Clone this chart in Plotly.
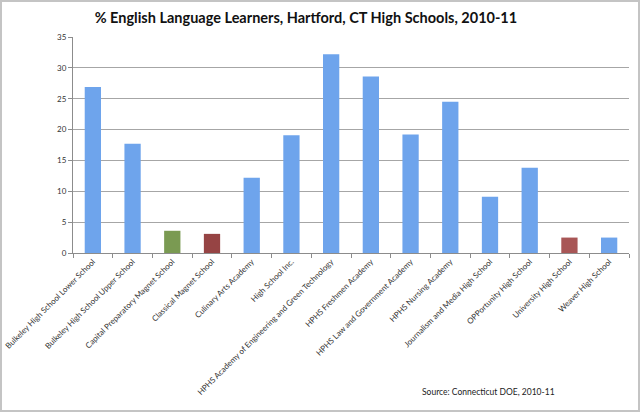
import plotly.graph_objects as go

schools = [
    "Bulkeley High School Lower School",
    "Bulkeley High School Upper School",
    "Capital Preparatory Magnet School",
    "Classical Magnet School",
    "Culinary Arts Academy",
    "High School Inc.",
    "HPHS Academy of Engineering and Green Technology",
    "HPHS Freshmen Academy",
    "HPHS Law and Government Academy",
    "HPHS Nursing Academy",
    "Journalism and Media High School",
    "OPPortunity High School",
    "University High School",
    "Weaver High School",
]
ell_pct = [26.9, 17.7, 3.6, 3.1, 12.2, 19.1, 32.2, 28.6, 19.2, 24.5, 9.1, 13.8, 2.5, 2.5]
blue = "#6ea4ec"
bar_colors = [blue, blue, "#7a9a52", "#964444", blue, blue, blue,
              blue, blue, blue, blue, blue, "#a85656", blue]
y_ticks = [0, 5, 10, 15, 20, 25, 30, 35]

fig = go.Figure()
fig.add_trace(go.Bar(x=schools, y=ell_pct, marker=dict(color=bar_colors, line=dict(width=0)),
                     width=0.41))

fig.update_layout(
    width=640, height=412,
    paper_bgcolor="white", plot_bgcolor="white",
    margin=dict(l=73, r=11, t=37, b=159),
    showlegend=False,
    font=dict(family="Lato, Open Sans, sans-serif", color="#333333"),
    title=dict(text="% English Language Learners, Hartford, CT High Schools, 2010-11",
               x=0.478, xanchor="center", y=0.956, yanchor="middle",
               font=dict(size=14.5, color="#111111", family="Lato, sans-serif", weight="bold")),
)
fig.update_xaxes(
    tickangle=-45, tickfont=dict(size=8, color="#333333"),
    showline=True, linecolor="#8c8c8c", linewidth=1,
    ticks="outside", ticklen=4, tickcolor="#8c8c8c", tickson="boundaries",
    automargin=False, showgrid=False,
)
fig.update_yaxes(
    range=[0, 35], tickvals=y_ticks, tickfont=dict(size=8, color="#333333"),
    showline=True, linecolor="#8c8c8c", linewidth=1,
    ticks="outside", ticklen=4, tickcolor="#8c8c8c",
    showgrid=True, gridcolor="#a6a6a6", gridwidth=1,
    automargin=False, zeroline=False,
)
fig.add_annotation(text="Source: Connecticut DOE, 2010-11", xref="paper", yref="paper",
                   x=0.624, y=-0.643, xanchor="left", yanchor="middle", showarrow=False,
                   font=dict(size=8.5, color="#222222"))
# light grey frame round the whole picture
fig.add_shape(type="rect", xref="paper", yref="paper", x0=-0.1295, x1=1.018, y0=-0.7315, y1=1.1667,
              line=dict(color="#c4c4c4", width=2), fillcolor="rgba(0,0,0,0)", layer="below")

fig.write_html("out.html", config={"displayModeBar": False},
               post_script="document.body.style.margin='0px';")
